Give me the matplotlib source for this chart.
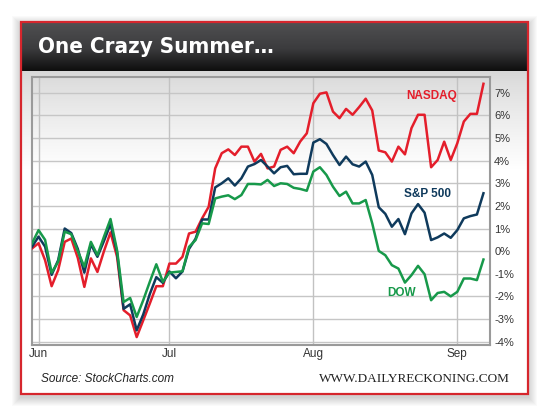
import numpy as np
import pandas as pd
import matplotlib
matplotlib.use("Agg")
import matplotlib.pyplot as plt
from matplotlib import font_manager
from matplotlib.patches import Rectangle
from matplotlib.colors import to_rgb
import matplotlib.transforms as mtransforms

# trading days, 31 May 2013 .. 9 Sep 2013 (Jul 4 and Labor Day closed)
dates = pd.bdate_range("2013-05-31", "2013-09-09")
dates = dates[~dates.isin(pd.to_datetime(["2013-07-04", "2013-09-02"]))]

# % change
nasdaq = [0.12, 0.35, -0.40, -1.55, -0.84, 0.41, 0.56, -0.30, -1.58, -0.32,
          -0.92, 0.00, 0.83, -0.25, -2.61, -2.84, -3.80, -3.06, -2.32, -1.55,
          -1.55, -0.55, -0.55, -0.25, 0.78, 0.86, 1.45, 1.96, 3.66, 4.33,
          4.50, 4.25, 4.62, 4.62, 3.96, 4.30, 3.66, 3.74, 4.48, 4.62,
          4.33, 4.85, 5.21, 6.54, 6.96, 7.02, 6.17, 5.88, 6.29, 6.03,
          6.37, 6.74, 6.22, 4.45, 4.37, 3.96, 4.62, 4.28, 5.44, 6.03,
          6.03, 3.71, 4.03, 4.84, 4.03, 4.77, 5.73, 6.07, 6.07, 7.40]
sp500 = [0.19, 0.64, 0.20, -1.05, -0.40, 1.00, 0.80, 0.10, -0.95, 0.30,
         -0.25, 0.45, 1.20, -0.05, -2.55, -2.35, -3.50, -2.80, -1.90, -1.15,
         -1.40, -0.90, -1.20, -0.90, 0.10, 0.55, 1.40, 1.40, 2.82, 3.00,
         3.22, 2.90, 3.22, 3.74, 3.85, 4.03, 3.74, 3.44, 3.71, 3.77,
         3.40, 3.42, 3.42, 4.80, 4.95, 4.74, 4.25, 3.81, 4.18, 3.84,
         3.74, 3.96, 3.37, 1.94, 1.65, 1.08, 1.42, 0.75, 1.67, 2.08,
         1.70, 0.49, 0.61, 0.78, 0.59, 0.93, 1.45, 1.55, 1.62, 2.56]
dow = [0.34, 0.93, 0.50, -0.95, -0.47, 0.86, 0.75, 0.00, -0.69, 0.41,
       -0.18, 0.64, 1.42, 0.04, -2.25, -2.07, -2.91, -2.17, -1.36, -0.58,
       -1.36, -0.95, -0.92, -0.89, 0.19, 0.49, 1.23, 1.20, 2.33, 2.41,
       2.47, 2.30, 2.48, 2.97, 2.97, 2.95, 3.15, 2.88, 3.00, 2.97,
       2.80, 2.75, 2.67, 3.52, 3.71, 3.37, 2.85, 2.44, 2.63, 2.11,
       2.11, 2.26, 1.23, 0.01, -0.18, -0.62, -0.77, -1.39, -1.06, -0.65,
       -1.02, -2.17, -1.85, -1.80, -2.00, -1.80, -1.21, -1.21, -1.28, -0.37]

month_labels = ["Jun", "Jul", "Aug", "Sep"]
y_ticks = [-4, -3, -2, -1, 0, 1, 2, 3, 4, 5, 6, 7]

RED = "#e41e2b"
NAVY = "#0f3a5c"
GREEN = "#17994a"

SANS = "Liberation Sans"
SERIF = "Liberation Serif"

# title wants a condensed bold face; use one if the machine has it
fonts = font_manager.fontManager.ttflist
narrow = [f for f in fonts if f.name == "Liberation Sans Narrow"]
cond = [f for f in fonts if f.name == "DejaVu Sans" and "condensed" in str(f.stretch)]
if narrow:
    title_kw = dict(family="Liberation Sans Narrow", fontsize=18)
elif cond:
    title_kw = dict(family="DejaVu Sans", fontstretch="condensed", fontsize=16)
else:
    title_kw = dict(family=SANS, fontsize=16)

fig = plt.figure(figsize=(5.5, 4.17), dpi=100)
fig.patch.set_facecolor("white")

# card / frame drawn in pixel coords
bg = fig.add_axes([0, 0, 1, 1])
bg.set_xlim(0, 550)
bg.set_ylim(417, 0)
bg.axis("off")

for k in range(1, 10):
    bg.add_patch(Rectangle((21 - k, 22 - k + 3), 507 + 2 * k, 372 + 2 * k,
                           facecolor="black", alpha=0.02, lw=0, zorder=0))
bg.add_patch(Rectangle((21, 22), 507, 372, facecolor="white", edgecolor="none", zorder=1))

# light grey fade below the header
fade = np.linspace(0, 1, 100)[:, None]
c0, c1 = np.array(to_rgb("#d6d6d6")), np.array(to_rgb("#ffffff"))
img = c0 + (c1 - c0) * np.clip(fade, 0, 1)[..., None] ** 0.8
bg.imshow(np.repeat(img, 2, axis=1), extent=[22, 527, 170, 70], aspect="auto", zorder=2)

# header band
t = np.linspace(0, 1, 60)
top, mid, bot = np.array(to_rgb("#505052")), np.array(to_rgb("#3b3b3d")), np.array(to_rgb("#0e0e0e"))
hdr = np.where(t[:, None] < 0.55, top + (mid - top) * (t[:, None] / 0.55),
               mid + (bot - mid) * ((t[:, None] - 0.55) / 0.45))
bg.imshow(np.repeat(hdr[:, None, :], 2, axis=1), extent=[22, 527, 71, 22], aspect="auto", zorder=3)
bg.add_patch(Rectangle((21, 22), 507, 372, facecolor="none", edgecolor="#d6262d", lw=1.6, zorder=4))
bg.set_xlim(0, 550)
bg.set_ylim(417, 0)

bg.text(38, 47, "One Crazy Summer…", color="white", fontweight="bold",
        va="center", ha="left", zorder=5, **title_kw)
bg.text(41, 379, "Source: StockCharts.com", fontsize=8.5, style="italic", family=SANS,
        color="#222222", va="center", ha="left", zorder=5)
bg.text(510, 379, "WWW.DAILYRECKONING.COM", fontsize=9.5, family=SERIF,
        color="#222222", va="center", ha="right", zorder=5)

# chart
ax = fig.add_axes([32 / 550, 1 - 345 / 417, 458 / 550, 268 / 417])
ax.set_facecolor("none")
x = np.arange(len(dates))
month_pos = [int(np.argmax(dates.month == m)) for m in (6, 7, 8, 9)]

for v in y_ticks:
    ax.axhline(v, color="#c6c6c6", lw=1.0, zorder=1)
for p in month_pos:
    ax.axvline(p, color="#c2c2c2", lw=1.0, zorder=1)

ax.plot(x, nasdaq, color=RED, lw=1.8, zorder=3)
ax.plot(x, sp500, color=NAVY, lw=1.8, zorder=4)
ax.plot(x, dow, color=GREEN, lw=1.8, zorder=5)

ax.text(57.2, 6.84, "NASDAQ", color=RED, fontsize=8.5, fontweight="bold", family=SANS, va="center")
ax.text(56.9, 2.53, "S&P 500", color=NAVY, fontsize=8.5, fontweight="bold", family=SANS, va="center")
ax.text(54.3, -1.86, "DOW", color=GREEN, fontsize=8.5, fontweight="bold", family=SANS, va="center")

ax.set_xlim(0, len(dates))
ax.set_ylim(-4.15, 7.7)
ax.yaxis.tick_right()
ax.set_yticks(y_ticks)
ax.set_yticklabels([f"{v}%" for v in y_ticks], fontsize=8, family=SANS, color="#333333")
ax.set_xticks(month_pos)
ax.set_xticklabels(month_labels, fontsize=8.5, family=SANS, color="#333333")
shift = mtransforms.ScaledTranslation(3 / 100, 0, fig.dpi_scale_trans)
for lab in ax.get_xticklabels():
    lab.set_transform(lab.get_transform() + shift)
ax.tick_params(length=0, pad=2)
ax.tick_params(axis="y", pad=3)
for s in ax.spines.values():
    s.set_color("#9a9a9a")
    s.set_linewidth(1.5)

fig.savefig("out.png", dpi=100)
